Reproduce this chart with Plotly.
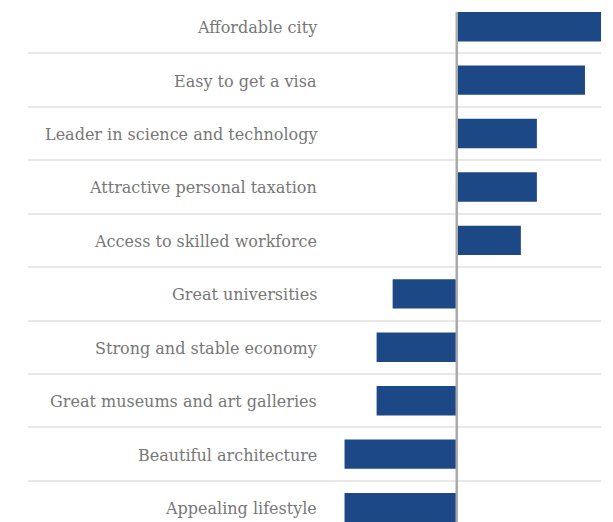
import plotly.graph_objects as go

categories = [
    "Affordable city",
    "Easy to get a visa",
    "Leader in science and technology",
    "Attractive personal taxation",
    "Access to skilled workforce",
    "Great universities",
    "Strong and stable economy",
    "Great museums and art galleries",
    "Beautiful architecture",
    "Appealing lifestyle",
]
values = [18, 16, 10, 10, 8, -8, -10, -10, -14, -14]

BAR_COLOR = "#1c4886"
BAR_W = 0.55

fig = go.Figure()
fig.add_trace(go.Bar(
    x=values, y=categories, orientation="h",
    marker=dict(color=BAR_COLOR, line=dict(width=0)),
    width=BAR_W, hoverinfo="x+y",
))

for c in categories:
    fig.add_annotation(
        x=0.5078, xref="paper", y=c, yref="y", yshift=-1,
        text=c, showarrow=False, xanchor="right", yanchor="middle",
        font=dict(family="DejaVu Serif, serif", size=16, color="#777777"),
    )

# zero line from the top of the first bar down to the bottom
fig.add_shape(type="line", xref="x", yref="y",
              x0=0, x1=0, y0=-BAR_W / 2, y1=9.6,
              line=dict(color="#aaaaaa", width=2.5), layer="above")

fig.update_xaxes(range=[-53.5, 18.0], showgrid=False, zeroline=False,
                 showticklabels=False, showline=False, fixedrange=True)
fig.update_yaxes(type="category", categoryorder="array", categoryarray=categories,
                 range=[9.27, -0.35], tickson="boundaries", showgrid=True,
                 gridcolor="#e8e8e8", gridwidth=1.5, showticklabels=False,
                 ticks="", zeroline=False, showline=False, fixedrange=True)

fig.update_layout(
    width=605, height=514,
    margin=dict(l=20, r=12, t=0, b=0),
    paper_bgcolor="white", plot_bgcolor="white",
    showlegend=False, bargap=0.45,
)

fig.write_html("out.html", config={"displayModeBar": False})
